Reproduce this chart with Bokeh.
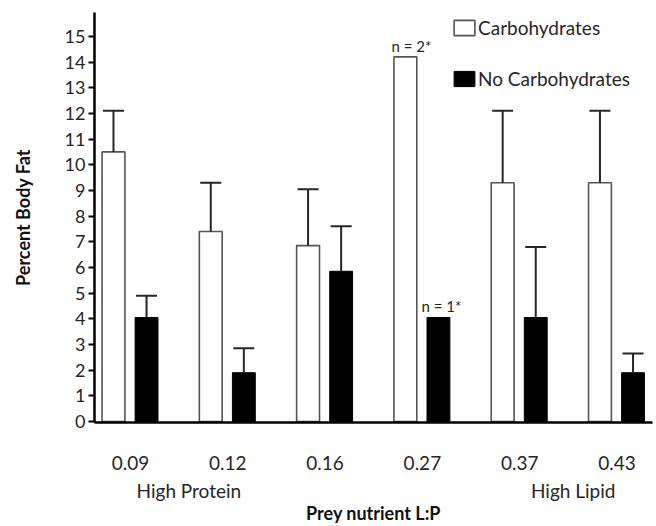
from bokeh.plotting import figure
from bokeh.models import (ColumnDataSource, Range1d, FixedTicker, LinearAxis,
                          Whisker, TeeHead, Legend, LegendItem)
from bokeh.core.properties import value
from bokeh.embed import file_html
from bokeh.resources import INLINE

# ---------------- data ----------------
lp_ratios = ["0.09", "0.12", "0.16", "0.27", "0.37", "0.43"]
diet_ends = ["High Protein", "High Lipid"]
diet_end_pos = [0.6, 4.55]          # label positions along the group axis
series_names = ["Carbohydrates", "No Carbohydrates"]

carb_mean = [10.5, 7.4, 6.85, 14.2, 9.3, 9.3]
carb_upper = [12.1, 9.3, 9.05, None, 12.1, 12.1]
nocarb_mean = [4.05, 1.9, 5.85, 4.05, 4.05, 1.9]
nocarb_upper = [4.9, 2.85, 7.6, None, 6.8, 2.65]
carb_note = ["", "", "", "n = 2*", "", ""]
nocarb_note = ["", "", "", "n = 1*", "", ""]
y_ticks = list(range(0, 16))

# ---------------- style ----------------
FONT = "Lato"
TXT = "#262626"
W_OFF, B_OFF, BAR_W = -0.175, 0.165, 0.235

groups = list(range(len(lp_ratios)))

p = figure(width=656, height=526, output_backend="svg", toolbar_location=None,
           x_range=Range1d(-0.37, 5.365), y_range=Range1d(-0.04, 15.93),
           x_axis_type=None, y_axis_type=None,
           min_border_left=94, min_border_right=4, min_border_top=12,
           min_border_bottom=102)
p.outline_line_color = None
p.background_fill_color = "white"
p.border_fill_color = "white"

src_c = ColumnDataSource(dict(x=[g + W_OFF for g in groups], top=carb_mean, note=carb_note))
src_n = ColumnDataSource(dict(x=[g + B_OFF for g in groups], top=nocarb_mean, note=nocarb_note))

rc = p.vbar(x="x", top="top", bottom=0, width=BAR_W, source=src_c,
            fill_color="white", line_color="#555555", line_width=1.6)
rn = p.vbar(x="x", top="top", bottom=0, width=BAR_W, source=src_n,
            fill_color="black", line_color="black", line_width=1)


def whisker_source(offset, means, uppers):
    rows = [(g + offset, m, u) for g, m, u in zip(groups, means, uppers) if u is not None]
    return ColumnDataSource(dict(x=[r[0] for r in rows], lower=[r[1] for r in rows],
                                 upper=[r[2] for r in rows]))


for off, means, uppers in [(W_OFF, carb_mean, carb_upper), (B_OFF, nocarb_mean, nocarb_upper)]:
    wsrc = whisker_source(off, means, uppers)
    p.add_layout(Whisker(source=wsrc, base="x", lower="lower", upper="upper",
                         dimension="height", line_color="#262626", line_width=2,
                         upper_head=TeeHead(size=21, line_color="#262626", line_width=2),
                         lower_head=None, level="annotation"))

for src, xo in ((src_c, 6), (src_n, 3)):
    p.text(x="x", y="top", text="note", source=src, text_font=value(FONT),
           text_font_size="15px", text_color=TXT, text_align="center",
           text_baseline="bottom", y_offset=-2, x_offset=xo)

# ---------------- axes ----------------
yaxis = LinearAxis(ticker=FixedTicker(ticks=y_ticks), axis_label="Percent Body Fat")
yaxis.axis_line_width = 2.5
yaxis.axis_line_color = "black"
yaxis.major_tick_out = 6
yaxis.major_tick_in = 0
yaxis.major_tick_line_width = 2
yaxis.major_tick_line_color = "black"
yaxis.minor_tick_line_color = None
yaxis.major_label_standoff = 3
yaxis.major_label_text_font = FONT
yaxis.major_label_text_font_size = "18px"
yaxis.major_label_text_color = TXT
yaxis.axis_label_text_font = FONT
yaxis.axis_label_text_font_size = "18px"
yaxis.axis_label_text_font_style = "bold"
yaxis.axis_label_text_color = "#111111"
yaxis.axis_label_standoff = 28
p.add_layout(yaxis, "left")

xaxis = LinearAxis(ticker=FixedTicker(ticks=groups),
                   major_label_overrides={g: lbl for g, lbl in zip(groups, lp_ratios)})
xaxis.axis_line_width = 2.5
xaxis.axis_line_color = "black"
xaxis.major_tick_out = 0
xaxis.major_tick_in = 0
xaxis.major_tick_line_color = None
xaxis.minor_tick_line_color = None
xaxis.major_label_standoff = 33
xaxis.major_label_text_font = FONT
xaxis.major_label_text_font_size = "19px"
xaxis.major_label_text_color = TXT
p.add_layout(xaxis, "below")

xaxis2 = LinearAxis(ticker=FixedTicker(ticks=diet_end_pos),
                    major_label_overrides={pos: lbl for pos, lbl in zip(diet_end_pos, diet_ends)},
                    axis_label="Prey nutrient L:P")
xaxis2.axis_line_color = None
xaxis2.major_tick_line_color = None
xaxis2.minor_tick_line_color = None
xaxis2.major_label_standoff = 0
xaxis2.major_label_text_font = FONT
xaxis2.major_label_text_font_size = "19px"
xaxis2.major_label_text_color = TXT
xaxis2.axis_label_text_font = FONT
xaxis2.axis_label_text_font_size = "18px"
xaxis2.axis_label_text_font_style = "bold"
xaxis2.axis_label_text_color = "#111111"
xaxis2.axis_label_standoff = -3
p.add_layout(xaxis2, "below")

# ---------------- legend ----------------
legend = Legend(items=[LegendItem(label=series_names[0], renderers=[rc]),
                       LegendItem(label=series_names[1], renderers=[rn])],
                location=(357, 332), orientation="vertical",
                glyph_width=26, glyph_height=19, label_height=19,
                label_standoff=1, spacing=28, padding=0, margin=0,
                border_line_color=None, background_fill_alpha=0,
                label_text_font=FONT, label_text_font_size="19px",
                label_text_color=TXT)
p.add_layout(legend)

open("out.html", "w").write(file_html(p, INLINE))
